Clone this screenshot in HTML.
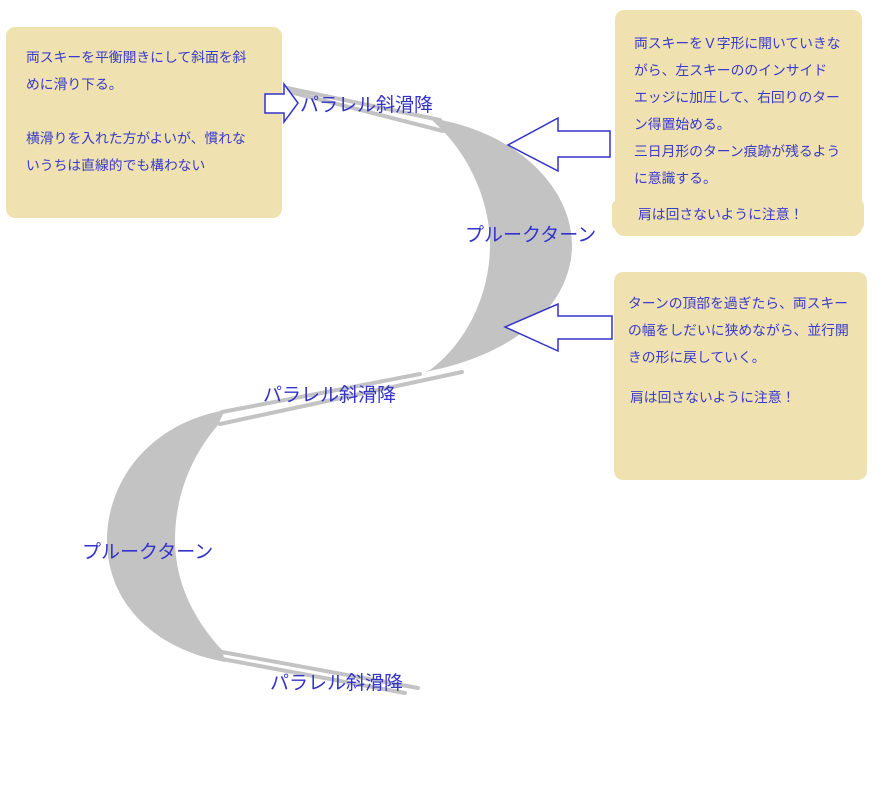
<!DOCTYPE html>
<html><head><meta charset="utf-8"><style>
html,body{margin:0;padding:0;background:#fff;}
svg{display:block}
text{font-family:"Liberation Sans","Noto Sans CJK JP",sans-serif;}
.t{font-size:13.8px;fill:#3a3acc;}
.l{font-size:19px;fill:#3333cc;}
</style></head><body>
<svg width="880" height="808" viewBox="0 0 880 808" xmlns="http://www.w3.org/2000/svg">
<rect x="6" y="27" width="276" height="191" rx="9" fill="#efe2b0"/>
<rect x="615" y="10" width="247" height="226" rx="9" fill="#efe2b0"/>
<rect x="612" y="200" width="252" height="30" rx="6" fill="#efe2b0"/>
<rect x="614" y="272" width="253" height="208" rx="9" fill="#efe2b0"/>

<g fill="#c3c3c3" stroke="none">
<path d="M430 118 C520 132 572 190 572 245 C572 305 515 355 425 372 L430 370 C470 340 490 290 490 245 C490 205 472 160 442 130 Z"/>
<path d="M225 410 C145 425 107 485 107 540 C107 600 150 648 225 662 L222 650 C192 618 175 580 175 540 C175 495 192 455 218 425 Z"/>
</g>
<g stroke="#c3c3c3" stroke-width="4" stroke-linecap="round" fill="none">
<line x1="287" y1="88" x2="440" y2="120"/>
<line x1="290" y1="92" x2="443" y2="131"/>
<line x1="420" y1="374" x2="222" y2="412"/>
<line x1="462" y1="372" x2="220" y2="424"/>
<line x1="222" y1="652" x2="418" y2="688"/>
<line x1="222" y1="659" x2="405" y2="693"/>
</g>

<g fill="#fff" stroke="#3333cc" stroke-width="1.5">
<path d="M265 94 H284 V84 L298 103 L284 122 V113 H265 Z"/>
<path d="M610 131 H558 V118 L508 145 L558 171 V157 H610 Z"/>
<path d="M612 316 H558 V304 L505 327 L558 351 V339 H612 Z"/>
</g>

<text class="l" x="300" y="111">パラレル斜滑降</text>
<text class="l" x="465" y="241">プルークターン</text>
<text class="l" x="263" y="401">パラレル斜滑降</text>
<text class="l" x="82" y="558">プルークターン</text>
<text class="l" x="270" y="689">パラレル斜滑降</text>

<text class="t" x="26" y="62">両スキーを平衡開きにして斜面を斜</text>
<text class="t" x="26" y="89">めに滑り下る。</text>
<text class="t" x="26" y="143">横滑りを入れた方がよいが、慣れな</text>
<text class="t" x="26" y="170">いうちは直線的でも構わない</text>

<text class="t" x="634" y="48">両スキーをＶ字形に開いていきな</text>
<text class="t" x="634" y="75">がら、左スキーののインサイド</text>
<text class="t" x="634" y="102">エッジに加圧して、右回りのター</text>
<text class="t" x="634" y="129">ン得置始める。</text>
<text class="t" x="634" y="156">三日月形のターン痕跡が残るよう</text>
<text class="t" x="634" y="183">に意識する。</text>
<text class="t" x="638" y="219">肩は回さないように注意！</text>

<text class="t" x="628" y="308">ターンの頂部を過ぎたら、両スキー</text>
<text class="t" x="628" y="335">の幅をしだいに狭めながら、並行開</text>
<text class="t" x="628" y="362">きの形に戻していく。</text>
<text class="t" x="630" y="402">肩は回さないように注意！</text>
</svg>
</body></html>
